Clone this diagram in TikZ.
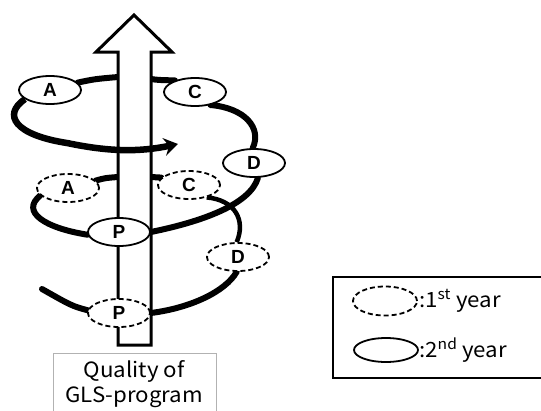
\documentclass[tikz,border=0pt]{standalone}
\usepackage{fontspec}
\setmainfont{Liberation Sans}
\newfontfamily\gothic[FakeStretch=1.06]{Noto Sans CJK JP}
\usetikzlibrary{shapes.geometric,arrows.meta}
\tikzset{
  yr/.style={ellipse, draw=black, fill=white, line width=1.8pt, minimum width=62pt, minimum height=28pt, inner sep=0pt, font=\bfseries\fontsize{19}{19}\selectfont},
  yrone/.style={yr, dash pattern=on 5pt off 3pt},
  loop/.style={line width=6pt, line cap=round},
  shaftstyle/.style={draw=black, fill=white, line width=3pt, miter limit=10},
  labeltext/.style={font=\gothic\fontsize{21}{25}\selectfont, inner sep=0pt}
}
\begin{document}
\begin{tikzpicture}[x=1pt,y=-1pt]
\useasboundingbox (0,0) rectangle (541,410);
% shaft reference points
\coordinate (sL2) at (118,77);
\coordinate (sR2) at (151,79);
\coordinate (sL1) at (118,177);
\coordinate (sR1) at (151,177);
\coordinate (tipEnd) at (178,144);
\coordinate (freeEnd) at (42,289);
% ellipse positions (nodes drawn later, but named now)
\path (50,90) node[yr,draw=none,fill=none,text opacity=0] (A2) {A}
      (195,92) node[yr,draw=none,fill=none,text opacity=0] (C2) {C}
      (254,163) node[yr,draw=none,fill=none,text opacity=0] (D2) {D}
      (119,232) node[yr,draw=none,fill=none,text opacity=0] (P2) {P}
      (68,188) node[yr,draw=none,fill=none,text opacity=0] (A1) {A}
      (189,185) node[yr,draw=none,fill=none,text opacity=0] (C1) {C}
      (238,257) node[yr,draw=none,fill=none,text opacity=0] (D1) {D}
      (119,313) node[yr,draw=none,fill=none,text opacity=0] (P1) {P};
% loops behind the shaft
\draw[loop] (A2.15) .. controls (95,79) .. (sL2);
\draw[loop] (sR2) .. controls (158,80) .. (C2.150);
\draw[loop] (C2.-40) .. controls (245,108) and (262,128) .. (D2.95);
\draw[loop] (A1.15) .. controls (105,178) .. (sL1);
\draw[loop] (sR1) -- (C1.165);
\draw[line width=4.5pt] (C1.-35) .. controls (235,200) and (246,220) .. (D1.95);
\draw[loop] (D2.-75) .. controls (250,205) and (200,222) .. (P2.east);
\draw[loop] (P2.185) .. controls (45,228) and (20,212) .. (A1.195);
\draw[loop] (D1.-95) .. controls (225,292) and (190,308) .. (P1.east);
\draw[loop] (P1.175) .. controls (72,306) .. (freeEnd);
% shaft
\draw[shaftstyle] (118,345) -- (118,52) -- (96,52) -- (134,15) -- (172,52) -- (151,52) -- (151,345) -- cycle;
% arrow in front of the shaft
\draw[line width=6.5pt, -{Stealth[length=14pt,width=18pt,inset=5pt]}] (A2.200) .. controls (2,115) and (15,135) .. (67,143) .. controls (110,152) and (140,152) .. (tipEnd);
% ellipses
\node[yr] at (A2) {A};
\node[yr] at (C2) {C};
\node[yr] at (D2) {D};
\node[yr] at (P2) {P};
\node[yrone] at (A1) {A};
\node[yrone] at (C1) {C};
\node[yrone] at (D1) {D};
\node[yrone] at (P1) {P};
% quality box
\draw[gray!60, line width=1pt] (53,412) -- (53,353) -- (216,353) -- (216,412);
\node[labeltext, align=center] (Q) at (134,384) {Quality of\\GLS-program};
% legend
\draw[line width=2pt] (543,277) -- (333,277) -- (333,378) -- (543,378);
\node[yrone, minimum width=64pt, minimum height=29pt] (L1) at (385,301) {};
\node[yr, minimum width=64pt, minimum height=24pt] (L2) at (386,350) {};
\node[labeltext, anchor=west] (T1) at (419,301) {:1\textsuperscript{st} year};
\node[labeltext, anchor=west] (T2) at (419,350) {:2\textsuperscript{nd} year};
\end{tikzpicture}
\end{document}
